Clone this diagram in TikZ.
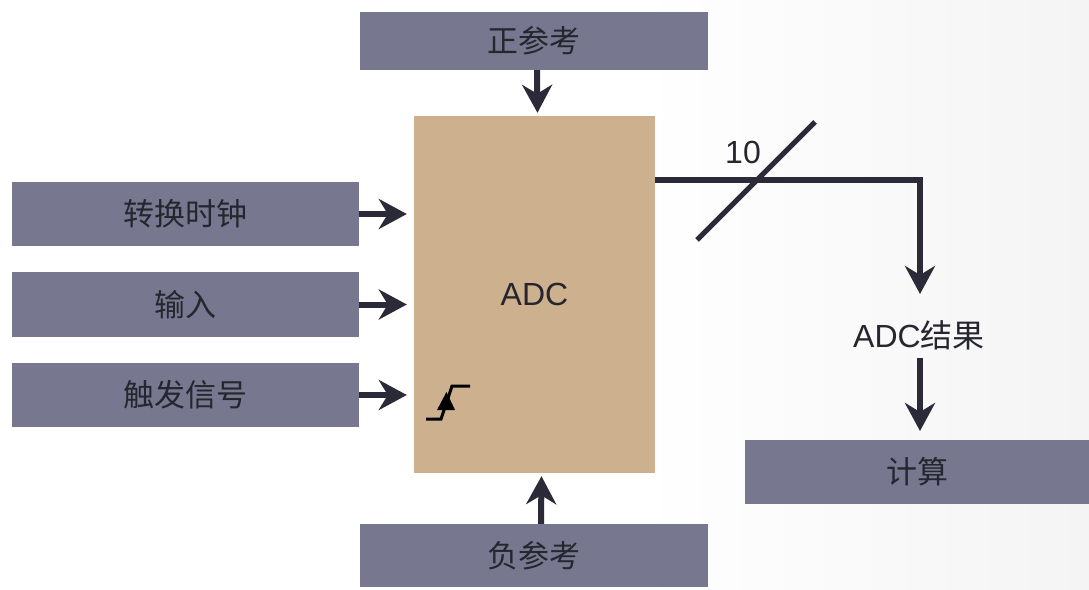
\documentclass[tikz,border=0pt]{standalone}
\usepackage{fontspec}
\setmainfont{Liberation Sans}
\newfontfamily\cjk{Noto Sans CJK SC}
\usetikzlibrary{arrows.meta}
\definecolor{boxc}{HTML}{77788F}
\definecolor{adcc}{HTML}{CDB08E}
\definecolor{arrc}{HTML}{2A2A38}
\definecolor{txtc}{HTML}{26262E}
\definecolor{bgr}{HTML}{F4F4F4}
\begin{document}
\begin{tikzpicture}[x=1pt,y=-1pt,
  lbox/.style={fill=boxc, draw=none, inner sep=0pt, text=txtc, font=\cjk\fontsize{31}{34}\selectfont},
  flow/.style={draw=arrc, line width=6pt, -{Stealth[length=28pt,width=30pt,inset=9pt]}},
  lbl/.style={text=txtc, inner sep=0pt, font=\fontsize{32}{35}\selectfont}]
\useasboundingbox (0,0) rectangle (1089,589);
\shade[left color=white, right color=bgr, shading angle=90] (640,0) rectangle (1089,589);
\fill[white] (0,0) rectangle (640,589);
% boxes
\node[lbox, minimum width=348pt, minimum height=58pt] (pos) at (534,41) {正参考};
\node[fill=adcc, inner sep=0pt, minimum width=241pt, minimum height=357pt, lbl] (adc) at (534.5,294.5) {ADC};
\node[lbox, minimum width=347pt, minimum height=64pt] (clk) at (185.5,214) {转换时钟};
\node[lbox, minimum width=347pt, minimum height=65pt] (inp) at (185.5,304.5) {输入};
\node[lbox, minimum width=347pt, minimum height=64pt] (trg) at (185.5,395) {触发信号};
\node[lbox, minimum width=348pt, minimum height=63pt] (neg) at (534,555.5) {负参考};
\node[lbox, minimum width=344pt, minimum height=64pt] (calc) at (917,472) {计算};
\node[lbl, font=\cjk\fontsize{31}{34}\selectfont] (res) at (919,335) {\fontspec{Liberation Sans}\fontsize{32}{35}\selectfont ADC\cjk 结果};
% input arrows
\draw[flow, shorten >=7pt] (clk.east) -- (adc.west |- clk.east);
\draw[flow, shorten >=7pt] (inp.east) -- (adc.west |- inp.east);
\draw[flow, shorten >=7pt] (trg.east) -- (adc.west |- trg.east);
\draw[flow, shorten >=3pt] ([xshift=3pt]pos.south) -- ([xshift=3pt]adc.north);
\draw[flow, shorten >=3pt] ([xshift=7pt]neg.north) -- ([xshift=7pt]adc.south);
% output
\coordinate (o1) at (655,180);
\coordinate (corner) at (920,180);
\coordinate (rtop) at (920,294);
\draw[flow, line join=miter] (adc.east |- o1) -- (corner) -- (rtop);
\draw[draw=arrc, line width=5pt] (697,240) coordinate (s1) -- (815,122) coordinate (s2);
\node[lbl] (n10) at (743,152) {10};
\coordinate (r2) at (920,431);
\coordinate (r1) at (920,358);
\draw[flow] (r1) -- (r2);
% trigger symbol
\draw[black, line width=3pt] (426,419) -- (441,419) -- (452,386) -- (470,386);
\fill[black] (446.5,392) -- (437,410) -- (455,410) -- cycle;
\end{tikzpicture}
\end{document}
